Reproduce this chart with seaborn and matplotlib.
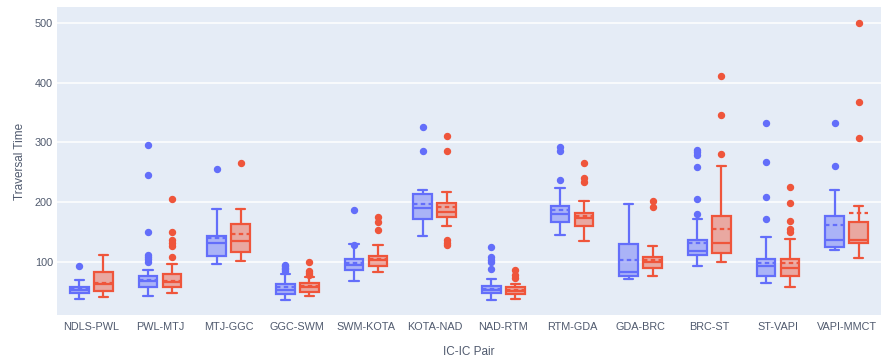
#%%
import numpy as np
import pandas as pd
import seaborn as sns
import matplotlib.pyplot as plt
from matplotlib.colors import to_rgba

#%% Box summaries (two series per IC-IC pair)
pairs = ['NDLS-PWL', 'PWL-MTJ', 'MTJ-GGC', 'GGC-SWM', 'SWM-KOTA', 'KOTA-NAD',
         'NAD-RTM', 'RTM-GDA', 'GDA-BRC', 'BRC-ST', 'ST-VAPI', 'VAPI-MMCT']

# blue series
blue_lo   = [37, 42, 96, 35, 68, 143, 35, 144, 71, 93, 65, 120]
blue_q1   = [47, 58, 110, 46, 86, 172, 47, 166, 76, 111, 76, 124]
blue_med  = [53, 68, 131, 52, 94, 190, 52, 180, 83, 118, 92, 136]
blue_q3   = [58, 76, 143, 62, 104, 213, 60, 194, 129, 136, 104, 177]
blue_hi   = [69, 86, 188, 80, 129, 221, 71, 223, 196, 171, 142, 220]
blue_mean = [55, 70, 139, 58, 97, 196, 55, 187, 103, 132, 97, 162]
blue_out  = [[92], [100, 104, 108, 111, 149, 245, 295], [255], [84, 87, 90, 93, 95],
             [128, 186], [286, 326], [87, 100, 103, 108, 125], [237, 286, 292],
             [], [180, 205, 258, 279, 284, 288], [172, 209, 267, 333], [261, 332]]

# red series
red_lo   = [40, 47, 101, 42, 83, 160, 37, 135, 76, 99, 57, 106]
red_q1   = [51, 58, 116, 50, 93, 175, 46, 159, 89, 114, 76, 132]
red_med  = [62, 66, 135, 57, 102, 184, 51, 173, 100, 131, 90, 137]
red_q3   = [82, 79, 164, 64, 110, 198, 57, 182, 108, 177, 105, 167]
red_hi   = [111, 96, 188, 75, 128, 216, 63, 202, 127, 261, 138, 194]
red_mean = [65, 68, 146, 60, 104, 191, 53, 176, 103, 154, 97, 181]
red_out  = [[], [108, 127, 132, 137, 149, 205], [265], [78, 81, 85, 100],
            [153, 166, 175], [128, 132, 136, 286, 310], [72, 78, 86], [234, 240, 265],
            [191, 202], [280, 346, 412], [150, 154, 168, 198, 226], [307, 368, 501]]

#%% Build the stats tables
def make_stats(lo, q1, med, q3, hi, mean, out):
    df = pd.DataFrame({'whislo': lo, 'q1': q1, 'med': med, 'q3': q3,
                       'whishi': hi, 'mean': mean})
    stats = df.to_dict('records')
    for s, f in zip(stats, out):
        s['fliers'] = np.array(f, dtype=float)
    return stats

blue_stats = make_stats(blue_lo, blue_q1, blue_med, blue_q3, blue_hi, blue_mean, blue_out)
red_stats = make_stats(red_lo, red_q1, red_med, red_q3, red_hi, red_mean, red_out)

#%% Plot
sns.set_theme(style="darkgrid", rc={
    'axes.facecolor': '#E5ECF6',
    'grid.color': 'white',
    'grid.linewidth': 1.1,
})
plt.rcParams['font.family'] = ['Liberation Sans', 'DejaVu Sans']

palette = ['#636EFA', '#EF553B']
text_col = '#505a6e'

fig = plt.figure(figsize=(8.81, 3.63), dpi=100)
ax = fig.add_axes([57 / 881, 1 - 315 / 363, 1 - 57 / 881, (315 - 7) / 363])

x = np.arange(len(pairs))
for stats, off, col in zip([blue_stats, red_stats], [-0.175, 0.175], palette):
    # translucent box fill like plotly
    ax.bxp(stats, positions=x + off, widths=0.27, patch_artist=True,
           showmeans=True, meanline=True, manage_ticks=False,
           boxprops=dict(facecolor=to_rgba(col, 0.45), edgecolor=col, linewidth=1.6),
           medianprops=dict(color=col, linewidth=1.6),
           meanprops=dict(color=col, linewidth=1.6, linestyle=(0, (2, 1.5))),
           whiskerprops=dict(color=col, linewidth=1.6),
           capprops=dict(color=col, linewidth=1.6),
           capwidths=0.135,
           flierprops=dict(marker='o', markerfacecolor=col, markeredgecolor=col,
                           markersize=4.3))

ax.set_xlim(-0.5, 11.5)
ax.set_ylim(10.6, 527)
ax.set_xticks(x)
ax.set_xticklabels(pairs)
ax.set_yticks([100, 200, 300, 400, 500])
ax.grid(axis='x', visible=False)
ax.tick_params(axis='both', length=0, labelsize=7.8, labelcolor=text_col)
ax.tick_params(axis='x', pad=5)
ax.tick_params(axis='y', pad=3)
for sp in ax.spines.values():
    sp.set_visible(False)

ax.set_xlabel('IC-IC Pair', fontsize=8.5, color=text_col, labelpad=10)
ax.set_ylabel('Traversal Time', fontsize=8.5, color=text_col, labelpad=6)

fig.savefig('out.png', dpi=100)
